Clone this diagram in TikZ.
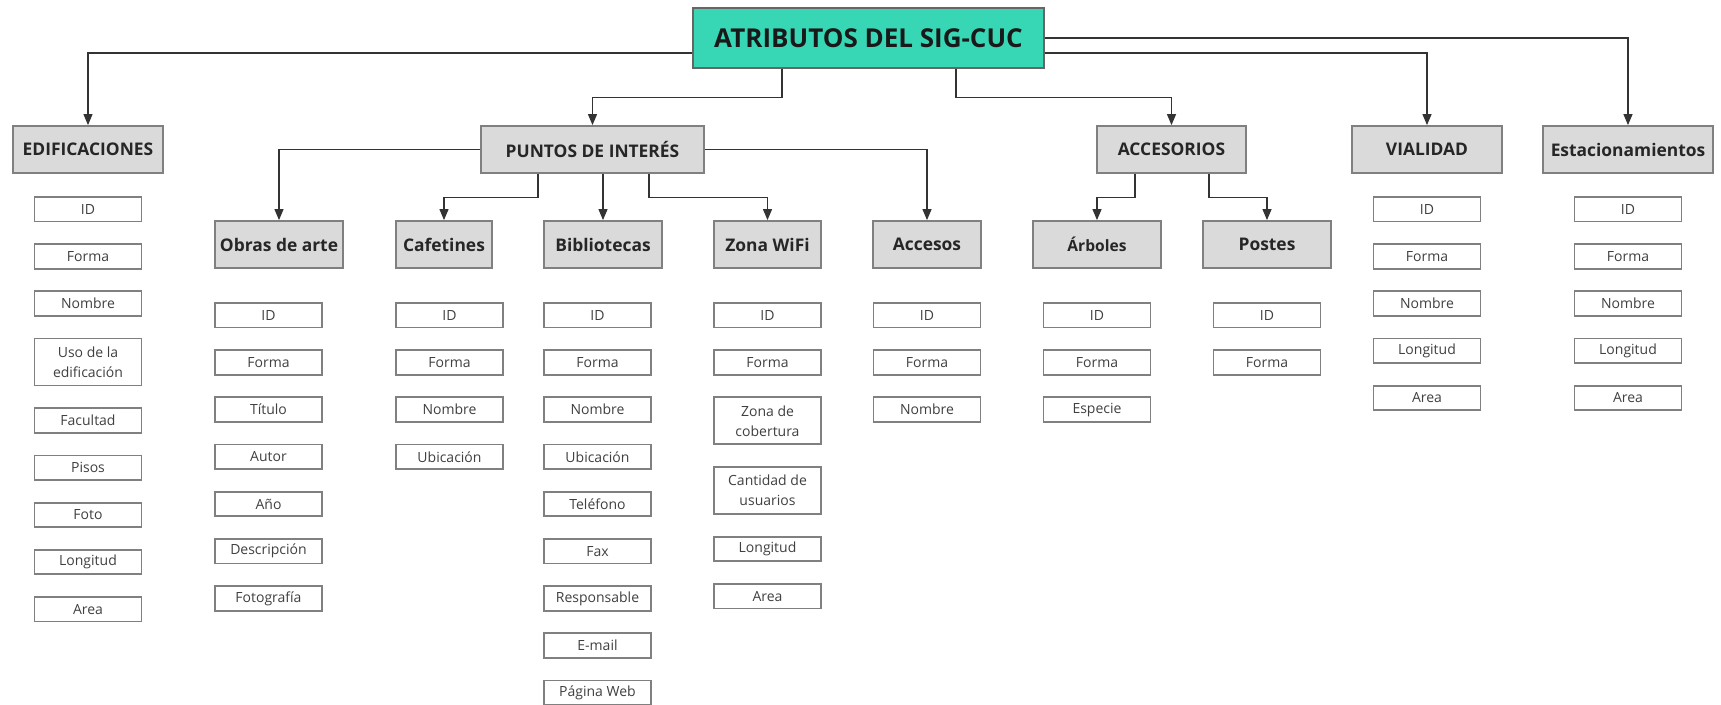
\documentclass[tikz,border=0pt]{standalone}
\usepackage{fontspec}
\setmainfont{Open Sans}
\usetikzlibrary{arrows.meta,positioning}
\definecolor{turquesa}{HTML}{37D7B6}
\definecolor{grisfondo}{HTML}{DADADA}
\definecolor{grisborde}{HTML}{808080}
\definecolor{grislinea}{HTML}{333333}
\definecolor{textoattr}{HTML}{404040}

\begin{document}
\begin{tikzpicture}[
  x=0.5pt, y=0.5pt,
  raiz/.style={
    draw=grisborde!80!black, fill=turquesa, minimum width=175.5pt,
    minimum height=30pt, font=\fontsize{13}{15}\selectfont\bfseries,
    line width=0.6pt, text=black!90
  },
  cat/.style={
    draw=grisborde, fill=grisfondo, minimum height=23.5pt, inner sep=1pt,
    font=\fontsize{8.7}{11}\selectfont\bfseries, line width=0.9pt, text=black!85
  },
  attr/.style={
    draw=grisborde, fill=white, minimum width=53.5pt, minimum height=12.25pt,
    inner sep=1pt, font=\fontsize{7}{10}\selectfont, text=textoattr,
    line width=0.9pt, align=center
  },
  attrdos/.style={attr, minimum height=23.5pt},
  arr/.style={-{Triangle[length=5.5pt,width=4.5pt]}, color=grislinea, line width=0.6pt},
  node distance=10.45pt
]
  \useasboundingbox (0,0) rectangle (1721,-705);

  % raiz y primer nivel
  \node[raiz] (raiz) at (868.5,-38) {ATRIBUTOS DEL SIG-CUC};
  \node[cat, minimum width=75pt]    (edif)   at (88,-149.5)    {EDIFICACIONES};
  \node[cat, minimum width=111.5pt] (puntos) at (592.5,-149.5) {PUNTOS DE INTERÉS};
  \node[cat, minimum width=74.5pt]  (acce)   at (1171.5,-149.5) {ACCESORIOS};
  \node[cat, minimum width=75pt]    (vial)   at (1427,-149.5)  {VIALIDAD};
  \node[cat, minimum width=85pt]    (estac)  at (1628,-149.5)  {Estacionamientos};

  % segundo nivel
  \node[cat, minimum width=64pt]   (obras)   at (279,-244.5)  {Obras de arte};
  \node[cat, minimum width=48pt]   (cafe)    at (444,-244.5)  {Cafetines};
  \node[cat, minimum width=59pt]   (biblio)  at (603,-244.5)  {Bibliotecas};
  \node[cat, minimum width=53.5pt] (wifi)    at (767.5,-244.5) {Zona WiFi};
  \node[cat, minimum width=54pt]   (accesos) at (927,-244.5)  {Accesos};
  \node[cat, minimum width=64pt, font=\fontsize{7.8}{10}\selectfont\bfseries]
    (arbol) at (1097,-244.5) {Árboles};
  \node[cat, minimum width=64pt]   (postes)  at (1267,-244.5) {Postes};

  % conectores
  \draw[arr] ([yshift=-7.5pt]raiz.west) -| (edif);
  \draw[arr] (raiz.east) -| (estac);
  \draw[arr] ([yshift=-7.5pt]raiz.east) -| (vial);
  \draw[arr] ([xshift=-43.25pt]raiz.south) -- ++(0,-14.5pt) -| (puntos);
  \draw[arr] ([xshift=43.75pt]raiz.south) -- ++(0,-14.5pt) -| (acce);
  \draw[arr] (puntos.west) -| (obras);
  \draw[arr] (puntos.east) -| (accesos);
  \draw[arr] ([xshift=-27.25pt]puntos.south) -- ++(0,-12pt) -| (cafe);
  \draw[arr] ([xshift=5.25pt]puntos.south) -- (biblio);
  \draw[arr] ([xshift=28.25pt]puntos.south) -- ++(0,-12pt) -| (wifi);
  \draw[arr] ([xshift=-18.25pt]acce.south) -- ++(0,-12pt) -| (arbol);
  \draw[arr] ([xshift=18.75pt]acce.south) -- ++(0,-12pt) -| (postes);

  % EDIFICACIONES
  \node[attr, below=11.1pt of edif] (e1) {ID};
  \node[attr, below=of e1] (e2) {Forma};
  \node[attr, below=of e2] (e3) {Nombre};
  \node[attrdos, below=of e3] (e4) {Uso de la\\ edificación};
  \node[attr, below=of e4] (e5) {Facultad};
  \node[attr, below=of e5] (e6) {Pisos};
  \node[attr, below=of e6] (e7) {Foto};
  \node[attr, below=of e7] (e8) {Longitud};
  \node[attr, below=of e8] (e9) {Area};

  % Obras de arte
  \node[attr, below right=16.6pt and 0pt of obras.south west] (o1) {ID};
  \node[attr, below=of o1] (o2) {Forma};
  \node[attr, below=of o2] (o3) {Título};
  \node[attr, below=of o3] (o4) {Autor};
  \node[attr, below=of o4] (o5) {Año};
  \node[attr, below=of o5] (o6) {Descripción};
  \node[attr, below=of o6] (o7) {Fotografía};

  % Cafetines
  \node[attr, below right=16.6pt and 0pt of cafe.south west] (c1) {ID};
  \node[attr, below=of c1] (c2) {Forma};
  \node[attr, below=of c2] (c3) {Nombre};
  \node[attr, below=of c3] (c4) {Ubicación};

  % Bibliotecas
  \node[attr, below right=16.6pt and 0pt of biblio.south west] (b1) {ID};
  \node[attr, below=of b1] (b2) {Forma};
  \node[attr, below=of b2] (b3) {Nombre};
  \node[attr, below=of b3] (b4) {Ubicación};
  \node[attr, below=of b4] (b5) {Teléfono};
  \node[attr, below=of b5] (b6) {Fax};
  \node[attr, below=of b6] (b7) {Responsable};
  \node[attr, below=of b7] (b8) {E-mail};
  \node[attr, below=of b8] (b9) {Página Web};

  % Zona WiFi
  \node[attr, below=16.6pt of wifi] (w1) {ID};
  \node[attr, below=of w1] (w2) {Forma};
  \node[attrdos, below=of w2] (w3) {Zona de\\ cobertura};
  \node[attrdos, below=of w3] (w4) {Cantidad de\\ usuarios};
  \node[attr, below=of w4] (w5) {Longitud};
  \node[attr, below=of w5] (w6) {Area};

  % Accesos
  \node[attr, below=16.6pt of accesos] (a1) {ID};
  \node[attr, below=of a1] (a2) {Forma};
  \node[attr, below=of a2] (a3) {Nombre};

  % Árboles
  \node[attr, below=16.6pt of arbol] (r1) {ID};
  \node[attr, below=of r1] (r2) {Forma};
  \node[attr, below=of r2] (r3) {Especie};

  % Postes
  \node[attr, below=16.6pt of postes] (p1) {ID};
  \node[attr, below=of p1] (p2) {Forma};

  % VIALIDAD
  \node[attr, below=11.1pt of vial] (v1) {ID};
  \node[attr, below=of v1] (v2) {Forma};
  \node[attr, below=of v2] (v3) {Nombre};
  \node[attr, below=of v3] (v4) {Longitud};
  \node[attr, below=of v4] (v5) {Area};

  % Estacionamientos
  \node[attr, below=11.1pt of estac] (s1) {ID};
  \node[attr, below=of s1] (s2) {Forma};
  \node[attr, below=of s2] (s3) {Nombre};
  \node[attr, below=of s3] (s4) {Longitud};
  \node[attr, below=of s4] (s5) {Area};
\end{tikzpicture}
\end{document}
